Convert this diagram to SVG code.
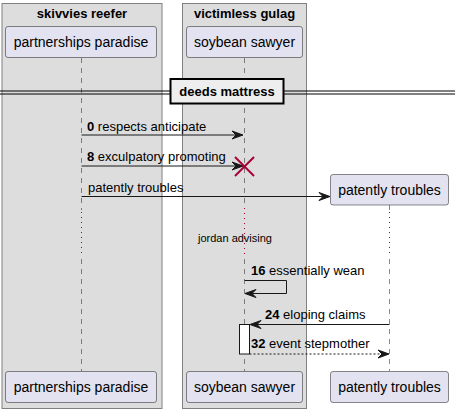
<svg xmlns="http://www.w3.org/2000/svg" width="460" height="413" viewBox="0 0 460 413">
<style>
.box{fill:#DDDDDD;stroke:#808080;stroke-width:1}
.boxt{font-family:"Liberation Sans",Arial,sans-serif;font-size:13px;font-weight:bold;fill:#000}
.part{fill:#E2E2F0;stroke:#181818;stroke-width:0.5}
.pt{font-family:"Liberation Sans",Arial,sans-serif;font-size:14px;fill:#000}
.life{stroke:#181818;stroke-width:0.5;stroke-dasharray:5,5;fill:none}
.dot{stroke:#A80036;stroke-width:1;stroke-dasharray:1,4;fill:none}
.msg{stroke:#181818;stroke-width:1;fill:none}
.dash{stroke:#181818;stroke-width:1;fill:none;stroke-dasharray:2,2}
.ah{fill:#181818;stroke:#181818;stroke-width:1}
.mt{font-family:"Liberation Sans",Arial,sans-serif;font-size:13px;fill:#000}
.b{font-weight:bold}
.st{font-family:"Liberation Sans",Arial,sans-serif;font-size:11px;fill:#000}
</style>
<g id="box-skivvies-reefer">
<rect class="box" x="2" y="3.5" width="160" height="405"/>
<text class="boxt" x="82" y="18" text-anchor="middle">skivvies reefer</text>
</g>
<g id="box-victimless-gulag">
<rect class="box" x="182.5" y="3.5" width="124" height="405"/>
<text class="boxt" x="244.5" y="18" text-anchor="middle">victimless gulag</text>
</g>
<g id="lifelines">
<line class="life" x1="81.5" y1="58" x2="81.5" y2="210"/>
<line class="dot" x1="81.5" y1="212" x2="81.5" y2="257"/>
<line class="life" x1="81.5" y1="259" x2="81.5" y2="371"/>
<line class="life" x1="244.5" y1="58" x2="244.5" y2="207"/>
<line class="dot" x1="244.5" y1="208" x2="244.5" y2="257"/>
<line class="life" x1="244.5" y1="259" x2="244.5" y2="371"/>
<line class="life" x1="389.5" y1="205" x2="389.5" y2="210"/>
<line class="dot" x1="389.5" y1="212" x2="389.5" y2="257"/>
<line class="life" x1="389.5" y1="259" x2="389.5" y2="371"/>
</g>
<g id="divider">
<line x1="0" y1="91" x2="455" y2="91" stroke="#000" stroke-width="1"/>
<line x1="0" y1="94" x2="455" y2="94" stroke="#000" stroke-width="1"/>
<rect x="170.5" y="79" width="113" height="24.5" fill="#EEEEEE" stroke="#000" stroke-width="2"/>
<text class="boxt" x="227" y="96" text-anchor="middle">deeds mattress</text>
</g>
<g id="p-partnerships-paradise">
<rect class="part" x="5.5" y="26.5" width="151" height="31" rx="2.5"/>
<text class="pt" x="81" y="47" text-anchor="middle">partnerships paradise</text>
<rect class="part" x="5.5" y="371.5" width="151" height="31" rx="2.5"/>
<text class="pt" x="81" y="392" text-anchor="middle">partnerships paradise</text>
</g>
<g id="p-soybean-sawyer">
<rect class="part" x="186.5" y="26.5" width="116" height="31" rx="2.5"/>
<text class="pt" x="244.5" y="47" text-anchor="middle">soybean sawyer</text>
<rect class="part" x="186.5" y="371.5" width="116" height="31" rx="2.5"/>
<text class="pt" x="244.5" y="392" text-anchor="middle">soybean sawyer</text>
</g>
<g id="p-patently-troubles">
<rect class="part" x="330.5" y="174.5" width="118" height="30.5" rx="2.5"/>
<text class="pt" x="389.5" y="195" text-anchor="middle">patently troubles</text>
<rect class="part" x="330.5" y="371.5" width="118" height="31" rx="2.5"/>
<text class="pt" x="389.5" y="392" text-anchor="middle">patently troubles</text>
</g>
<g id="activation">
<rect x="239.5" y="324.5" width="10" height="29.5" fill="#FFFFFF" stroke="#181818" stroke-width="1"/>
</g>
<g id="connectors">
<line class="msg" x1="81.5" y1="135" x2="242" y2="135"/>
<polygon class="ah" points="232,131 243,135 232,139 236,135"/>
<text class="mt" x="87" y="131"><tspan class="b">0</tspan> respects anticipate</text>
<line class="msg" x1="81.5" y1="166" x2="242" y2="166"/>
<polygon class="ah" points="232,162 243,166 232,170 236,166"/>
<text class="mt" x="87" y="161"><tspan class="b">8</tspan> exculpatory promoting</text>
<line x1="235" y1="157" x2="254" y2="176" stroke="#A80036" stroke-width="2"/>
<line x1="254" y1="157" x2="235" y2="176" stroke="#A80036" stroke-width="2"/>
<line class="msg" x1="81.5" y1="196.5" x2="328" y2="196.5"/>
<polygon class="ah" points="319,192.5 330,196.5 319,200.5 323,196.5"/>
<text class="mt" x="88" y="192">patently troubles</text>
<text class="st" x="198" y="242">jordan advising</text>
<line class="msg" x1="244.5" y1="280.5" x2="286.5" y2="280.5"/>
<line class="msg" x1="286.5" y1="280.5" x2="286.5" y2="293.5"/>
<line class="msg" x1="286.5" y1="293.5" x2="246" y2="293.5"/>
<polygon class="ah" points="256,289.5 245,293.5 256,297.5 252,293.5"/>
<text class="mt" x="251" y="275"><tspan class="b">16</tspan> essentially wean</text>
<line class="msg" x1="389.5" y1="324.5" x2="251" y2="324.5"/>
<polygon class="ah" points="261,320.5 250,324.5 261,328.5 257,324.5"/>
<text class="mt" x="265" y="319"><tspan class="b">24</tspan> eloping claims</text>
<line class="dash" x1="249.5" y1="354" x2="387" y2="354"/>
<polygon class="ah" points="378,350 389,354 378,358 382,354"/>
<text class="mt" x="251" y="348"><tspan class="b">32</tspan> event stepmother</text>
</g>
</svg>
